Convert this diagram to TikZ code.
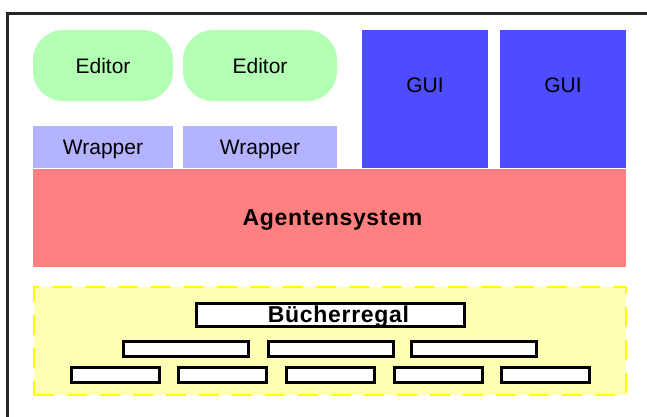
\documentclass[tikz,border=0pt]{standalone}
\usepackage{fontspec}
\setmainfont{Liberation Sans}
\newfontfamily\widebold[LetterSpace=3]{Liberation Sans Bold}
\usepackage{tikz}

\definecolor{editorgreen}{HTML}{B3FFB3}
\definecolor{wrapperblue}{HTML}{B3B3FF}
\definecolor{guiblue}{HTML}{4D4DFF}
\definecolor{agentred}{HTML}{FF8080}
\definecolor{regalyellow}{HTML}{FFFFB3}
\definecolor{dashyellow}{HTML}{FFFF00}

\begin{document}
\begin{tikzpicture}[x=1pt, y=-1pt,
    every node/.style={inner sep=0pt, text height=15pt, text depth=0pt,
      font=\fontsize{21}{25}\selectfont},
    editor/.style={rectangle, fill=editorgreen, rounded corners=30pt, minimum height=71pt},
    wrapper/.style={rectangle, fill=wrapperblue, minimum height=42pt},
    gui/.style={rectangle, fill=guiblue, minimum width=126pt, minimum height=138pt},
    agent/.style={rectangle, fill=agentred, minimum width=593pt, minimum height=98pt,
      text height=16.3pt, font=\fontsize{23}{27}\selectfont\widebold},
    regal/.style={rectangle, draw=dashyellow, fill=regalyellow, line width=2pt,
      dash pattern=on 20pt off 13pt, minimum width=592pt, minimum height=108pt},
    shelf/.style={rectangle, draw=black, fill=white, line width=3pt, minimum height=11pt},
  ]
  \useasboundingbox (0,0) rectangle (647,416);

  % frame
  \draw[black!85, line width=3pt] (7,430) |- (660,13);

  % top row
  \node (E1) [editor, minimum width=140pt] at (103,65.5) {Editor};
  \node (E2) [editor, minimum width=154pt] at (260,65.5) {Editor};
  \node (W1) [wrapper, minimum width=140pt] at (103,147) {Wrapper};
  \node (W2) [wrapper, minimum width=154pt] at (260,147) {Wrapper};
  \node (G1) [gui, label={[yshift=14.5pt]center:GUI}] at (425,99) {};
  \node (G2) [gui, label={[yshift=14.5pt]center:GUI}] at (563,99) {};

  \node (A) [agent] at (329.5,217.5) {\hspace*{6pt}Agentensystem};

  % shelf
  \node (R) [regal] at (330,341) {};
  \node (B) [shelf, minimum width=268pt, minimum height=23pt, text height=16.3pt,
    font=\fontsize{23}{27}\selectfont\widebold] at (330.5,314.5) {\hspace*{16pt}Bücherregal};
  \foreach \x [count=\i] in {186,330.5,474}
    \node (S2-\i) [shelf, minimum width=125pt] at (\x,349) {};
  \foreach \x [count=\i] in {115,222.5,330.5,438,545.5}
    \node (S3-\i) [shelf, minimum width=88pt, minimum height=12pt] at (\x,375) {};
\end{tikzpicture}
\end{document}
